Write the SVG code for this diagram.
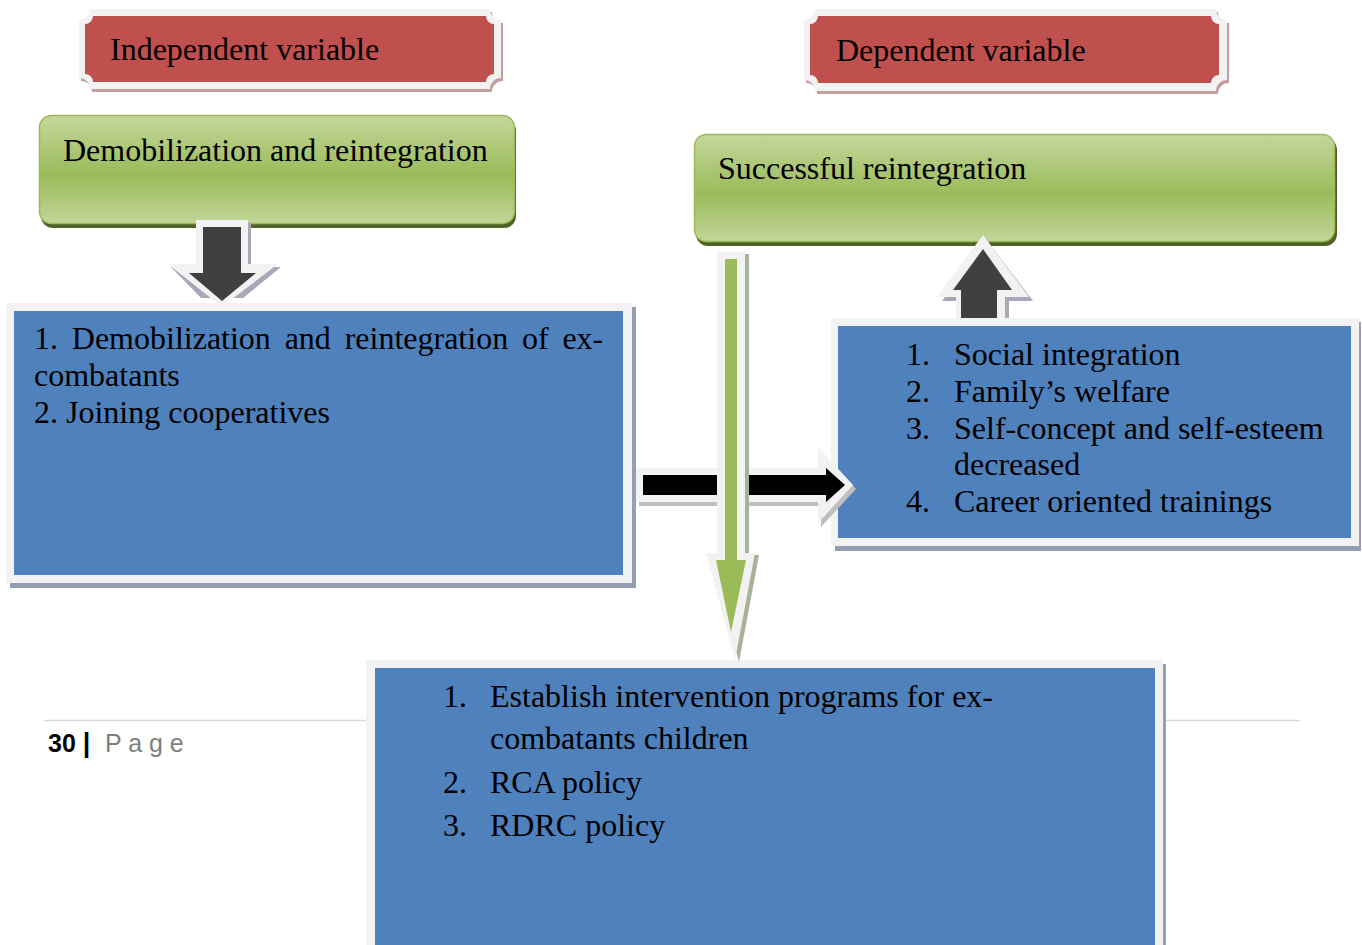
<svg xmlns="http://www.w3.org/2000/svg" width="1362" height="945" viewBox="0 0 1362 945">
<defs>
<linearGradient id="gg" x1="0" y1="0" x2="0" y2="1">
<stop offset="0" stop-color="#c4d79c"/>
<stop offset="0.55" stop-color="#9bbb59"/>
<stop offset="1" stop-color="#c2d69a"/>
</linearGradient>
<style>
.t{font-family:"Liberation Serif","Times New Roman",serif;font-size:32px;fill:#000}
.frame{fill:#f2f2f2}
.blue{fill:#4f81bd}
.bshadow{fill:#959fb4}
.gbox{fill:url(#gg);stroke:#9bbb59;stroke-width:1.5}
.gshadow{fill:#4f6228}
.red{fill:#c0504d}
.rshadow{fill:#c39f9d}
.ashadow{fill:#aba6b8}
.dark{fill:#404040}
</style>
</defs>
<rect width="1362" height="945" fill="#fff"/>

<g id="footer">
<line x1="44" y1="720.5" x2="1300" y2="720.5" stroke="#d9d9d9" stroke-width="1.5"/>
<text x="48" y="752" font-family="Liberation Sans, Arial, sans-serif" font-size="25" font-weight="bold" fill="#000">30 <tspan font-size="27">|</tspan></text>
<text x="105" y="752" font-family="Liberation Sans, Arial, sans-serif" font-size="25" fill="#7f7f7f">P a g e</text>
</g>

<g id="independent-variable">
<path class="rshadow" d="M92,12 H492 A11,11 0 0 0 503,23 V81 A11,11 0 0 0 492,92 H92 A11,11 0 0 0 81,81 V23 A11,11 0 0 0 92,12 Z"/>
<path class="frame" d="M90,9 H490 A11,11 0 0 0 501,20 V78 A11,11 0 0 0 490,89 H90 A11,11 0 0 0 79,78 V20 A11,11 0 0 0 90,9 Z"/>
<path class="red" d="M93,16 H486 A8,8 0 0 0 494,24 V74 A8,8 0 0 0 486,82 H93 A8,8 0 0 0 85,74 V24 A8,8 0 0 0 93,16 Z"/>
<text class="t" x="110" y="60">Independent variable</text>
</g>

<g id="dependent-variable">
<path class="rshadow" d="M817,12 H1218 A11,11 0 0 0 1229,23 V83 A11,11 0 0 0 1218,94 H817 A11,11 0 0 0 806,83 V23 A11,11 0 0 0 817,12 Z"/>
<path class="frame" d="M815,9 H1216 A11,11 0 0 0 1227,20 V80 A11,11 0 0 0 1216,91 H815 A11,11 0 0 0 804,80 V20 A11,11 0 0 0 815,9 Z"/>
<path class="red" d="M818,16 H1211 A8,8 0 0 0 1219,24 V75 A8,8 0 0 0 1211,83 H818 A8,8 0 0 0 810,75 V24 A8,8 0 0 0 818,16 Z"/>
<text class="t" x="836" y="61">Dependent variable</text>
</g>

<g id="demobilization">
<rect class="gshadow" x="41" y="119" width="475" height="109" rx="12"/>
<rect class="gbox" x="39.5" y="115.5" width="475" height="108" rx="12"/>
<text class="t" x="63" y="161">Demobilization and reintegration</text>
</g>

<g id="successful-reintegration">
<rect class="gshadow" x="696" y="138" width="641" height="108" rx="12"/>
<rect class="gbox" x="694.5" y="134.5" width="640" height="107" rx="12"/>
<text class="t" x="718" y="179">Successful reintegration</text>
</g>

<g id="left-box">
<rect class="bshadow" x="10" y="307" width="626" height="281"/>
<rect class="frame" x="6" y="303" width="626" height="280"/>
<rect class="blue" x="14" y="311" width="609" height="264"/>
<text class="t" x="34" y="349" word-spacing="5.8">1. Demobilization and reintegration of ex-</text>
<text class="t" x="34" y="386">combatants</text>
<text class="t" x="34" y="423">2. Joining cooperatives</text>
</g>

<g id="right-box">
<rect class="bshadow" x="835" y="322" width="526" height="229"/>
<rect class="frame" x="831" y="318" width="528" height="228"/>
<rect class="blue" x="838" y="326" width="513" height="212"/>
<text class="t" x="906" y="365">1.</text><text class="t" x="954" y="365">Social integration</text>
<text class="t" x="906" y="402">2.</text><text class="t" x="954" y="402">Family’s welfare</text>
<text class="t" x="906" y="439">3.</text><text class="t" x="954" y="439">Self-concept and self-esteem</text>
<text class="t" x="954" y="475">decreased</text>
<text class="t" x="906" y="512">4.</text><text class="t" x="954" y="512">Career oriented trainings</text>
</g>

<g id="bottom-box">
<rect class="bshadow" x="370" y="664" width="796" height="290"/>
<rect class="frame" x="366" y="660" width="797" height="290"/>
<rect class="blue" x="375" y="668" width="780" height="290"/>
<text class="t" x="443" y="707">1.</text><text class="t" x="490" y="707">Establish intervention programs for ex-</text>
<text class="t" x="490" y="749">combatants children</text>
<text class="t" x="443" y="793">2.</text><text class="t" x="490" y="793">RCA policy</text>
<text class="t" x="443" y="836">3.</text><text class="t" x="490" y="836">RDRC policy</text>
</g>

<g id="connectors">
<!-- down arrow -->
<path class="ashadow" d="M199,223 H251 V267 H281 L243,298 H201 L171,267 H199 Z"/>
<path class="frame" d="M196,220 H248 V264 H278 L227,303 H217 L168,264 H196 Z"/>
<path class="dark" d="M203,227 H241 V273 H256 L222,301 L189,273 H203 Z"/>
<!-- up arrow -->
<path class="ashadow" d="M986,239 L1033,301 H1009 V318 H959 V301 H942 Z"/>
<path class="frame" d="M983,235 L1029,297 H1005 V318 H956 V297 H937 Z"/>
<path class="dark" d="M983,249 L1012,290 H997 V318 H961 V290 H953 Z"/>
<!-- horizontal arrow -->
<path fill="#bfbfbf" d="M639,472 H821 V451 L856,489 L821,527 V506 H639 Z"/>
<path class="frame" d="M636,468 H818 V447 L853,485 L818,523 V502 H636 Z"/>
<path fill="#000" d="M643,475 H826 V468 L845,485 L826,502 V495 H643 Z"/>
<!-- green arrow -->
<path fill="#a9b299" d="M721,254 H749 V555 H759 L739,662 L710,555 H721 Z"/>
<path class="frame" d="M717,252 H745 V553 H755 L735,660 L706,553 H717 Z"/>
<path fill="#9bbb59" d="M725,259 H737 V560 H746 L731,632 L716,560 H725 Z"/>
</g>
</svg>
